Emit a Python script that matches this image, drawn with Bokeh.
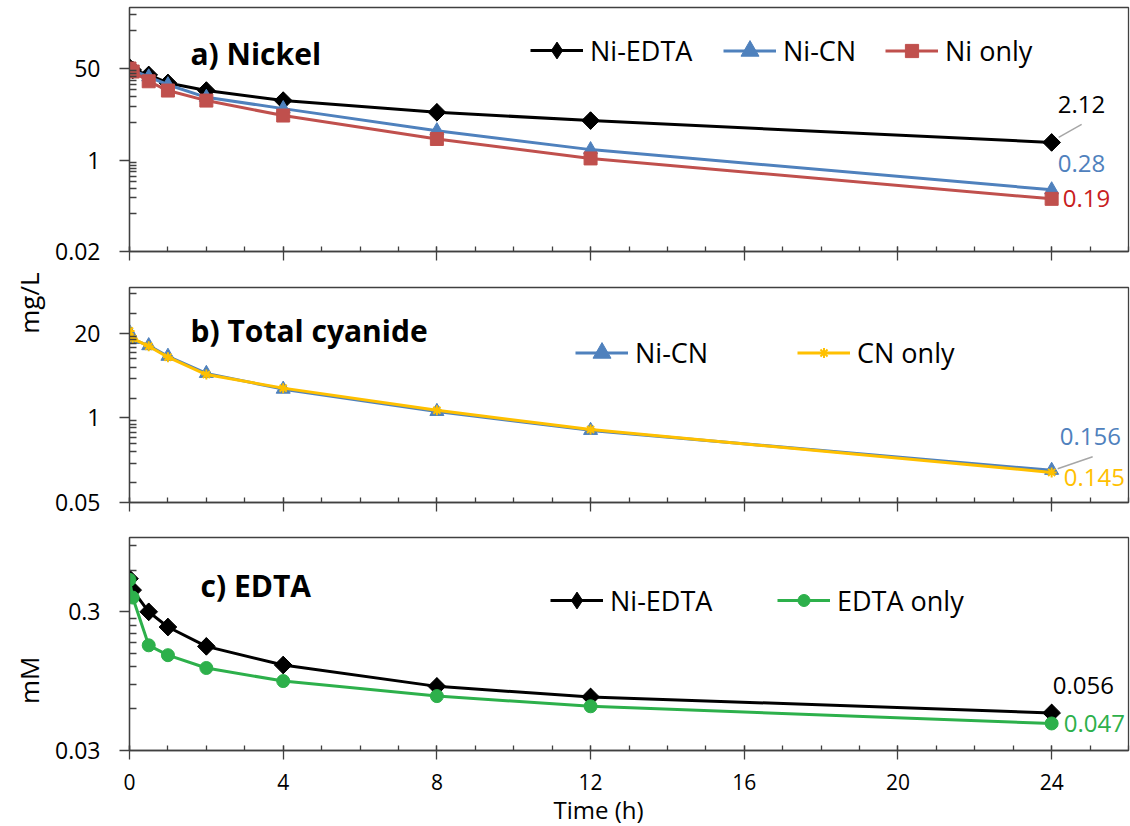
import math
from bokeh.plotting import figure
from bokeh.layouts import column
from bokeh.models import (Range1d, FixedTicker, CustomJSTickFormatter, Label,
                          Legend, LegendItem, Title)
from bokeh.embed import file_html
from bokeh.resources import INLINE

FONT = "Open Sans"
AXIS = "#404040"
LEADER = "#A6A6A6"

BLACK = "#000000"
BLUE = "#4F81BD"
RED = "#C0504D"
RED_TXT = "#C82020"
YELLOW = "#FFC000"
GREEN = "#2DB04B"

# shared horizontal frame geometry (panels are stacked in one column)
FRAME_LEFT = 129
FRAME_W = 999

# sampling times (h)
time_h = [0, 0.083, 0.5, 1, 2, 4, 8, 12, 24]
time_ticks = [0, 4, 8, 12, 16, 20, 24]

# a) nickel (mg/L)
ni_ni_edta = [52, 47, 38, 27, 19.5, 12.7, 7.7, 5.4, 2.12]
ni_ni_cn = [46, 46, 35, 25, 14.6, 9.0, 3.5, 1.56, 0.28]
ni_ni_only = [50, 44, 29, 19.5, 12.7, 6.7, 2.46, 1.07, 0.19]
nickel_ticks = [0.02, 1, 50]

# b) total cyanide (mg/L)
cn_ni_cn = [20.5, 16.0, 12.8, 8.8, 4.8, 2.75, 1.25, 0.64, 0.156]
cn_cn_only = [21.5, 16.5, 12.5, 8.5, 4.6, 2.85, 1.3, 0.66, 0.145]
cyanide_ticks = [0.05, 1, 20]

# c) EDTA (mM)
edta_ni_edta = [0.52, 0.43, 0.30, 0.233, 0.169, 0.124, 0.087, 0.073, 0.056]
edta_edta_only = [0.51, 0.38, 0.172, 0.146, 0.118, 0.095, 0.074, 0.0625, 0.047]
edta_ticks = [0.03, 0.3]


def minor_ticks(majors, base, top):
    """Excel-style log minor ticks: nine even steps of next_major/10."""
    out = []
    edges = list(majors) + [majors[-1] * base]
    for lo, hi in zip(edges[:-1], edges[1:]):
        step = hi / 10.0
        for k in range(1, 10):
            v = k * step
            if lo * 1.0001 < v < hi * 0.9999 and v <= top:
                out.append(v)
    return out


def make_panel(y_lo, y_hi, majors, base, frame_h, top, bottom, x_labels,
               ylabel_standoff):
    p = figure(frame_width=FRAME_W, frame_height=frame_h,
               min_border_left=FRAME_LEFT, min_border_right=2,
               min_border_top=top, min_border_bottom=bottom,
               x_range=Range1d(0, 26), y_range=Range1d(y_lo, y_hi),
               y_axis_type="log", output_backend="svg",
               toolbar_location=None, background_fill_color="white",
               border_fill_color="white", outline_line_color=AXIS,
               outline_line_width=1.3)
    p.grid.visible = False

    xa = p.xaxis[0]
    xa.ticker = FixedTicker(ticks=time_ticks, minor_ticks=list(range(0, 27)))
    xa.axis_line_color = AXIS
    xa.axis_line_width = 1.3
    xa.major_tick_line_color = AXIS
    xa.minor_tick_line_color = AXIS
    xa.major_tick_line_width = 1.3
    xa.minor_tick_line_width = 1.3
    xa.major_tick_in = 5
    xa.major_tick_out = 9
    xa.minor_tick_in = 5
    xa.minor_tick_out = 0
    if x_labels:
        xa.major_label_text_font = FONT
        xa.major_label_text_font_size = "21px"
        xa.major_label_text_color = BLACK
        xa.major_label_standoff = 14
    else:
        # tick marks only: the time labels sit under the bottom panel
        xa.major_label_text_alpha = 0
        xa.major_label_text_font_size = "1px"
        xa.major_label_standoff = 0

    ya = p.yaxis[0]
    ya.ticker = FixedTicker(ticks=majors,
                            minor_ticks=minor_ticks(majors, base, y_hi))
    ya.formatter = CustomJSTickFormatter(code="return String(tick)")
    ya.axis_line_color = AXIS
    ya.axis_line_width = 1.3
    ya.major_tick_line_color = AXIS
    ya.minor_tick_line_color = AXIS
    ya.major_tick_line_width = 1.3
    ya.minor_tick_line_width = 1.3
    ya.major_tick_in = 0
    ya.major_tick_out = 10
    ya.minor_tick_in = 7
    ya.minor_tick_out = 0
    ya.major_label_text_font = FONT
    ya.major_label_text_font_size = "23px"
    ya.major_label_text_color = BLACK
    ya.major_label_standoff = ylabel_standoff
    return p


def px_scale(p):
    xr, yr = p.x_range, p.y_range
    per_h = p.frame_width / (xr.end - xr.start)
    per_dec = p.frame_height / math.log10(yr.end / yr.start)
    return per_h, per_dec


def nudge(p, t, v, dx, dy):
    per_h, per_dec = px_scale(p)
    return t + dx / per_h, v * 10 ** (dy / per_dec)


def series(p, y, color, marker, size, line_width=3):
    line = p.line(time_h, y, line_color=color, line_width=line_width)
    pts = p.scatter(time_h, y, marker=marker, size=size, fill_color=color,
                    line_color=color)
    return line, pts


TEXT_H = 37  # height of a 27px legend label


def legend_item(p, label, renderers, glyph_x, center, glyph_h):
    vy = center - max(glyph_h, TEXT_H) / 2.0
    leg = Legend(items=[LegendItem(label=label, renderers=renderers)],
                 location=(glyph_x - FRAME_LEFT, vy), orientation="horizontal",
                 glyph_width=53, glyph_height=glyph_h, label_standoff=7,
                 label_text_font=FONT, label_text_font_size="27px",
                 label_text_color=BLACK, padding=0, margin=0, spacing=0,
                 border_line_alpha=0, background_fill_alpha=0)
    p.add_layout(leg)


def value_label(p, t, v, dx, dy, color):
    p.add_layout(Label(x=t, y=v, x_offset=dx, y_offset=dy, text=str(v),
                       text_font=FONT, text_font_size="24px",
                       text_color=color, text_align="left",
                       text_baseline="middle"))


def title_label(p, text, page_x, y):
    p.add_layout(Label(x=page_x - FRAME_LEFT, y=y, x_units="screen",
                       y_units="screen", text=text, text_font=FONT,
                       text_font_size="30px", text_font_style="bold",
                       text_color=BLACK, text_align="left",
                       text_baseline="alphabetic"))


def side_title(p, text, side, align, offset, standoff, size, valign):
    p.add_layout(Title(text=text, align=align, offset=offset,
                       standoff=standoff, text_font=FONT,
                       text_font_size=size, text_font_style="normal",
                       text_color=BLACK, vertical_align=valign), side)


def ni_edta_markers(p, y):
    # diamond drawn beneath the rotated square serves as the legend glyph
    dia = p.scatter(time_h, y, marker="diamond", size=17, fill_color=BLACK,
                    line_color=BLACK)
    p.scatter(time_h, y, marker="square", size=12.5, angle=math.pi / 4,
              fill_color=BLACK, line_color=BLACK)
    return dia


# ---------------- a) Nickel ----------------
pa = make_panel(0.02, 680, nickel_ticks, 50, frame_h=244, top=7, bottom=17,
                x_labels=False, ylabel_standoff=19)
la = pa.line(time_h, ni_ni_edta, line_color=BLACK, line_width=3)
da = ni_edta_markers(pa, ni_ni_edta)
lb, sb = series(pa, ni_ni_cn, BLUE, "triangle", 14)
lc, sc = series(pa, ni_ni_only, RED, "square", 13)

legend_item(pa, "Ni-EDTA", [la, da], 530, 201, 42)
legend_item(pa, "Ni-CN", [lb, sb], 723, 201, 45)
legend_item(pa, "Ni only", [lc, sc], 885, 201, 33)

x0, y0 = nudge(pa, time_h[-1], ni_ni_edta[-1], 7, 5)
x1, y1 = nudge(pa, time_h[-1], ni_ni_edta[-1], 30, 18)
pa.segment(x0=[x0], y0=[y0], x1=[x1], y1=[y1], line_color=LEADER,
           line_width=1.5)
value_label(pa, time_h[-1], ni_ni_edta[-1], 6, 38, BLACK)
value_label(pa, time_h[-1], ni_ni_cn[-1], 6, 26, BLUE)
value_label(pa, time_h[-1], ni_ni_only[-1], 11, 0, RED_TXT)
title_label(pa, "a) Nickel", 190, 198)

# ---------------- b) Total cyanide ----------------
pb = make_panel(0.05, 100, cyanide_ticks, 20, frame_h=215, top=19, bottom=17,
                x_labels=False, ylabel_standoff=19)
lb2, sb2 = series(pb, cn_ni_cn, BLUE, "triangle", 14)
ly = pb.line(time_h, cn_cn_only, line_color=YELLOW, line_width=3)
sy = pb.scatter(time_h, cn_cn_only, marker="asterisk", size=10,
                line_color=YELLOW, line_width=2)

legend_item(pb, "Ni-CN", [lb2, sb2], 575, 150, 45)
legend_item(pb, "CN only", [ly, sy], 797, 150, 25)

x0, y0 = nudge(pb, time_h[-1], cn_ni_cn[-1], 6, 1.5)
x1, y1 = nudge(pb, time_h[-1], cn_ni_cn[-1], 41, 13.5)
pb.segment(x0=[x0], y0=[y0], x1=[x1], y1=[y1], line_color=LEADER,
           line_width=1.5)
value_label(pb, time_h[-1], cn_ni_cn[-1], 8, 34, BLUE)
value_label(pb, time_h[-1], cn_cn_only[-1], 12, -5, YELLOW)
title_label(pb, "b) Total cyanide", 190, 172)
side_title(pb, "mg/L", "left", "right", -15, 12, "26px", "bottom")

# ---------------- c) EDTA ----------------
pc = make_panel(0.03, 1.03, edta_ticks, 10, frame_h=213, top=18, bottom=76,
                x_labels=True, ylabel_standoff=19)
lk = pc.line(time_h, edta_ni_edta, line_color=BLACK, line_width=3)
dk = ni_edta_markers(pc, edta_ni_edta)
lg, sg = series(pc, edta_edta_only, GREEN, "circle", 13)

legend_item(pc, "Ni-EDTA", [lk, dk], 550, 150, 42)
legend_item(pc, "EDTA only", [lg, sg], 777, 150, 30)

value_label(pc, time_h[-1], edta_ni_edta[-1], 1, 27, BLACK)
value_label(pc, time_h[-1], edta_edta_only[-1], 12, 0, GREEN)
title_label(pc, "c) EDTA", 200, 165)
side_title(pc, "mM", "left", "right", 119, 12, "26px", "bottom")
side_title(pc, "Time (h)", "below", "left", 553 - FRAME_LEFT, 0, "24px", "top")

layout = column(pa, pb, pc, spacing=0)
open("out.html", "w").write(file_html(layout, INLINE))
